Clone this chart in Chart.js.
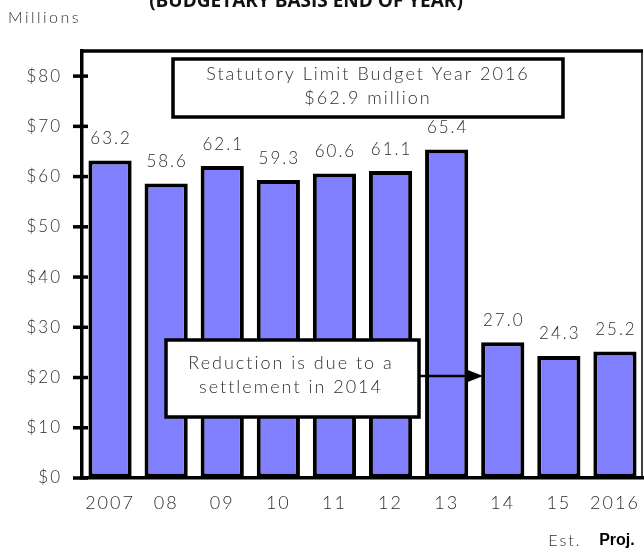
<!DOCTYPE html>
<html>
<head>
<meta charset="utf-8">
<script src="https://cdn.jsdelivr.net/npm/chart.js@4.4.1/dist/chart.umd.min.js"></script>
<style>
  html, body { margin: 0; padding: 0; background: #fff; }
  #wrap { width: 644px; height: 552px; position: relative; }
</style>
</head>
<body>
<div id="wrap"><canvas id="fundChart"></canvas></div>
<script>
// Fund balance, budgetary basis, end of year ($ millions)
const years = ['2007', '08', '09', '10', '11', '12', '13', '14', '15', '2016'];
const amounts = [63.2, 58.6, 62.1, 59.3, 60.6, 61.1, 65.4, 27.0, 24.3, 25.2];
const yTicks = [0, 10, 20, 30, 40, 50, 60, 70, 80];
const yearNotes = ['', '', '', '', '', '', '', '', 'Est.', 'Proj.'];
const titleText = '(BUDGETARY BASIS END OF YEAR)';
const unitText = 'Millions';
const limitLines = ['Statutory Limit Budget Year 2016', '$62.9 million'];
const reductionLines = ['Reduction is due to a', 'settlement in 2014'];
const reductionYear = '14';

const TEXT_GRAY = '#2e2e2e';
const FONT = 'Lato';
const LIGHT = '300 ';

Chart.defaults.font.family = FONT;
Chart.defaults.color = TEXT_GRAY;

function textAt(ctx, str, x, y, font, color, align) {
    ctx.save();
    ctx.font = font;
    ctx.fillStyle = color;
    ctx.textAlign = align || 'center';
    ctx.textBaseline = 'middle';
    ctx.fillText(str, x, y);
    ctx.restore();
}

function boxAt(ctx, x1, y1, x2, y2) {
    ctx.save();
    ctx.fillStyle = '#fff';
    ctx.fillRect(x1, y1, x2 - x1, y2 - y1);
    ctx.lineWidth = 3.5;
    ctx.strokeStyle = '#000';
    ctx.strokeRect(x1, y1, x2 - x1, y2 - y1);
    ctx.restore();
}

// letter spacing for all canvas text
const spacingPlugin = {
    id: 'spacing',
    beforeDraw(chart) {
        chart.ctx.letterSpacing = '2px';
    }
};

// frame lines, y tick marks, titles and notes
const framePlugin = {
    id: 'frame',
    afterDraw(chart) {
        const ctx = chart.ctx;
        const area = chart.chartArea;
        const y = chart.scales.y;
        const x = chart.scales.x;

        ctx.save();
        ctx.strokeStyle = '#000';
        ctx.lineWidth = 3.5;
        ctx.beginPath();
        ctx.moveTo(area.left, area.top);
        ctx.lineTo(area.right, area.top);
        ctx.stroke();
        ctx.lineWidth = 1.5;
        ctx.beginPath();
        ctx.moveTo(area.right - 1, area.top);
        ctx.lineTo(area.right - 1, area.bottom);
        ctx.stroke();

        ctx.lineWidth = 3.5;
        yTicks.forEach(v => {
            const py = y.getPixelForValue(v);
            ctx.beginPath();
            ctx.moveTo(area.left - 9, py);
            ctx.lineTo(area.left + 6, py);
            ctx.stroke();
        });
        ctx.restore();

        ctx.save();
        ctx.letterSpacing = '0px';
        ctx.font = 'bold 19px "Open Sans"';
        ctx.fillStyle = '#111';
        ctx.textAlign = 'center';
        ctx.textBaseline = 'alphabetic';
        ctx.fillText(titleText, 306, 7);
        ctx.restore();

        ctx.save();
        ctx.letterSpacing = '2.5px';
        textAt(ctx, unitText, 8, 18, LIGHT + '16px ' + FONT, TEXT_GRAY, 'left');
        ctx.restore();

        yearNotes.forEach((note, i) => {
            if (!note) return;
            const px = x.getPixelForValue(i);
            if (note === 'Proj.') {
                ctx.save();
                ctx.letterSpacing = '0px';
                textAt(ctx, note, px + 2, 541, 'bold 16px "Liberation Sans"', '#000');
                ctx.restore();
            } else {
                textAt(ctx, note, px + 6, 541, LIGHT + '16px ' + FONT, TEXT_GRAY);
            }
        });
    }
};

// value labels and callout boxes over the bars
const labelPlugin = {
    id: 'labels',
    afterDatasetsDraw(chart) {
        const ctx = chart.ctx;
        const meta = chart.getDatasetMeta(0);
        meta.data.forEach((bar, i) => {
            textAt(ctx, amounts[i].toFixed(1), bar.x + 1, bar.y - 22, LIGHT + '17px ' + FONT, TEXT_GRAY);
        });

        boxAt(ctx, 173, 59, 563, 117);
        textAt(ctx, limitLines[0], 368, 74, LIGHT + '18px ' + FONT, TEXT_GRAY);
        textAt(ctx, limitLines[1], 368, 98, LIGHT + '18px ' + FONT, TEXT_GRAY);

        boxAt(ctx, 166, 340, 419, 417);
        textAt(ctx, reductionLines[0], 291, 363, LIGHT + '18px ' + FONT, TEXT_GRAY);
        textAt(ctx, reductionLines[1], 291, 387, LIGHT + '18px ' + FONT, TEXT_GRAY);

        const target = meta.data[years.indexOf(reductionYear)];
        const tipX = target.x - target.width / 2 + 2;
        const arrowY = 376;
        ctx.save();
        ctx.strokeStyle = '#000';
        ctx.fillStyle = '#000';
        ctx.lineWidth = 2.5;
        ctx.beginPath();
        ctx.moveTo(419, arrowY);
        ctx.lineTo(tipX - 14, arrowY);
        ctx.stroke();
        ctx.beginPath();
        ctx.moveTo(tipX, arrowY);
        ctx.lineTo(tipX - 18, arrowY - 7);
        ctx.lineTo(tipX - 18, arrowY + 7);
        ctx.closePath();
        ctx.fill();
        ctx.restore();
    }
};

const ctx = document.getElementById('fundChart').getContext('2d');
new Chart(ctx, {
    type: 'bar',
    data: {
        labels: years,
        datasets: [{
            data: amounts,
            backgroundColor: '#8080ff',
            borderColor: '#000',
            borderWidth: 4,
            borderSkipped: false,
            barPercentage: 0.77,
            categoryPercentage: 1.0
        }]
    },
    options: {
        responsive: true,
        maintainAspectRatio: false,
        animation: false,
        layout: {
            padding: { top: 51, right: 1, left: 0, bottom: 0 }
        },
        plugins: {
            legend: { display: false },
            tooltip: { enabled: false }
        },
        scales: {
            x: {
                afterFit: scale => {
                    scale.height = 74;
                    scale.paddingLeft = 0;
                    scale.paddingRight = 0;
                },
                grid: { display: true, drawOnChartArea: false, drawTicks: false },
                border: { display: true, color: '#000', width: 3.5 },
                ticks: {
                    padding: 14,
                    color: TEXT_GRAY,
                    font: { size: 18, weight: 300 }
                }
            },
            y: {
                min: 0,
                max: 85,
                afterFit: scale => { scale.width = 82; },
                afterBuildTicks: scale => {
                    scale.ticks = yTicks.map(v => ({ value: v }));
                },
                grid: { display: true, drawOnChartArea: false, drawTicks: false },
                border: { display: true, color: '#000', width: 3.5 },
                ticks: {
                    padding: 20,
                    color: TEXT_GRAY,
                    font: { size: 17, weight: 300 },
                    callback: v => '$' + v
                }
            }
        }
    },
    plugins: [spacingPlugin, labelPlugin, framePlugin]
});
</script>
</body>
</html>
